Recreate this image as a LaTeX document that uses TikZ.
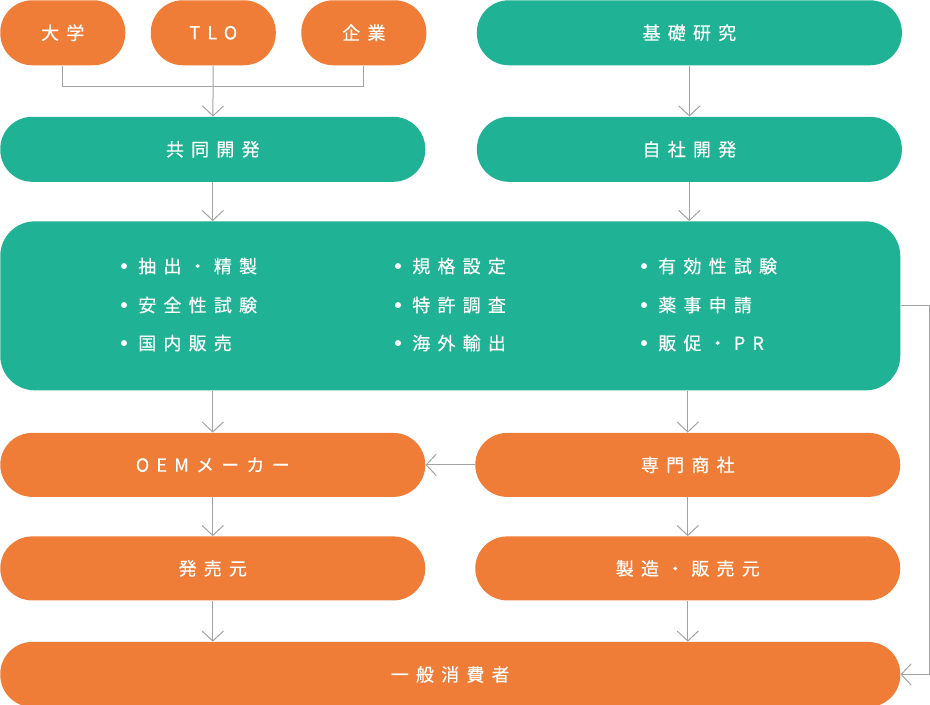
\documentclass[tikz,border=0pt]{standalone}
\usepackage{fontspec}
\newfontfamily\jpfont[LetterSpace=40,FakeBold=0.4]{Noto Sans CJK JP}
\usepackage{xcolor}
\usetikzlibrary{arrows.meta,positioning}
\definecolor{floworange}{HTML}{EF7D37}
\definecolor{flowteal}{HTML}{1FB294}
\definecolor{linegray}{HTML}{A3A3A3}

\begin{document}
\begin{tikzpicture}[
 node distance=18.75pt,
 box/.style={rounded corners=24pt,inner sep=0pt,minimum height=48.75pt,
 text=white,font=\jpfont\fontsize{13.5}{16}\selectfont},
 org/.style={box,fill=floworange},
 dev/.style={box,fill=flowteal},
 small/.style={minimum width=93.75pt},
 half/.style={minimum width=318.75pt},
 full/.style={minimum width=675pt},
 item/.style={anchor=west,inner sep=0pt,text=white,
 font=\jpfont\fontsize{13.5}{16}\selectfont},
 line/.style={draw=linegray,line width=0.75pt},
 arr/.style={line,-{Straight Barb[length=7.5pt,width=16pt]}}]
\useasboundingbox (0,0) rectangle (697.5pt,-528pt);
\node[org,small,anchor=north west] (univ) at (0,0) {大学};
\node[org,small,right=of univ] (tlo) {TLO};
\node[org,small,right=of tlo] (corp) {企業};
\node[dev,half,right=37.5pt of corp] (basic) {基礎研究};
\node[dev,half,below right=38.25pt and 0pt of univ.south west] (joint) {共同開発};
\node[dev,half,below=38.25pt of basic] (inhouse) {自社開発};
\node[dev,full,minimum height=126.75pt,rounded corners=26pt,
 below right=29.25pt and 0pt of joint.south west] (main) {};
% work items
\node[item,xshift=103.5pt,yshift=-33.75pt] (extract) at (main.north west) {抽出・精製};
\node[item,xshift=103.5pt,yshift=-63pt] (safety) at (main.north west) {安全性試験};
\node[item,xshift=103.5pt,yshift=-91.5pt] (domestic) at (main.north west) {国内販売};
\node[item,xshift=309pt,yshift=-33.75pt] (spec) at (main.north west) {規格設定};
\node[item,xshift=309pt,yshift=-63pt] (patent) at (main.north west) {特許調査};
\node[item,xshift=309pt,yshift=-91.5pt] (export) at (main.north west) {海外輸出};
\node[item,xshift=493.5pt,yshift=-33.75pt] (efficacy) at (main.north west) {有効性試験};
\node[item,xshift=493.5pt,yshift=-63pt] (pharma) at (main.north west) {薬事申請};
\node[item,xshift=493.5pt,yshift=-91.5pt] (promo) at (main.north west) {販促・PR};
\foreach \n in {extract,safety,domestic,spec,patent,export,efficacy,pharma,promo}
 \fill[white] ([xshift=-10.5pt]\n.west) circle (2.25pt);
\node[org,half,minimum height=48pt,below right=31.5pt and 0pt of main.south west] (oem) {OEMメーカー};
\node[org,half,minimum height=48pt,below left=31.5pt and 0pt of main.south east] (trader) {専門商社};
\node[org,half,minimum height=48pt,below=29.25pt of oem] (seller) {発売元};
\node[org,half,minimum height=48pt,below=29.25pt of trader] (maker) {製造・販売元};
\node[org,full,below right=30.75pt and 0pt of seller.south west] (consumer) {一般消費者};
\draw[line] (univ.south) -- ++(0,-15.75pt) -| (corp.south);
\draw[arr] (tlo) -- (joint);
\draw[arr] (basic) -- (inhouse);
\draw[arr] (joint) -- (joint.south |- main.north);
\draw[arr] (inhouse) -- (inhouse.south |- main.north);
\draw[arr] (main.south -| oem.north) -- (oem);
\draw[arr] (main.south -| trader.north) -- (trader);
\draw[arr] (trader) -- (oem);
\draw[arr] (oem) -- (seller);
\draw[arr] (trader) -- (maker);
\draw[arr] (seller) -- (seller.south |- consumer.north);
\draw[arr] (maker) -- (maker.south |- consumer.north);
\draw[arr] (main.east) -- ++(22pt,0) |- (consumer.east);
\end{tikzpicture}
\end{document}
